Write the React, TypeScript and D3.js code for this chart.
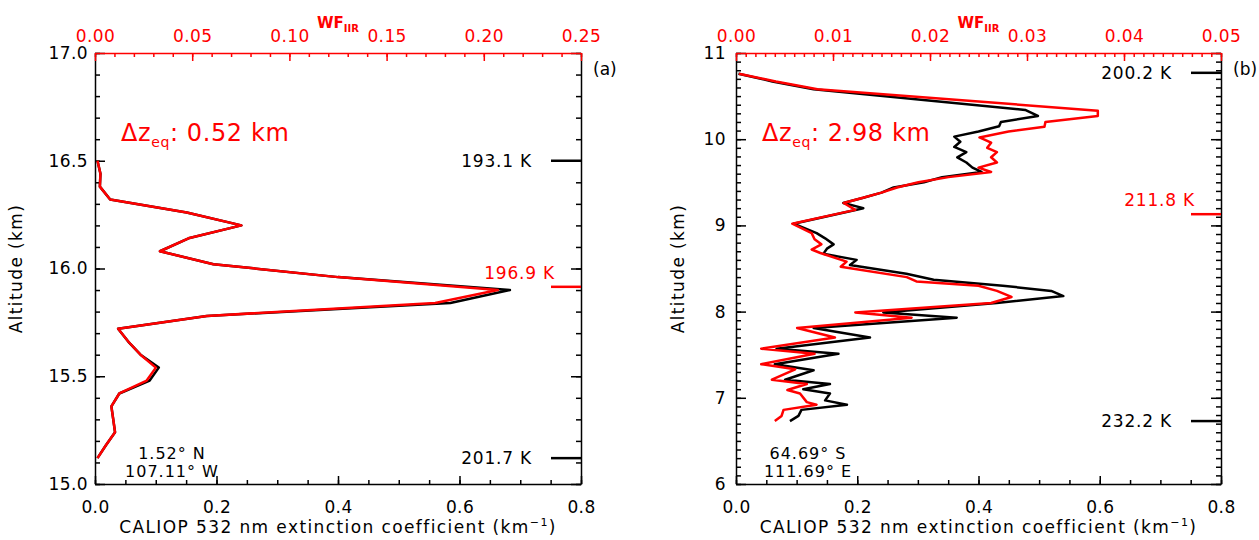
import * as d3 from "d3";
import React, { useRef, useEffect } from "react";

const W = 1259;
const H = 540;
const FONT = "DejaVu Sans, Verdana, sans-serif";
const RED = "#ff0000";

// panel (a): CALIOP extinction (black) and IIR weighting function (red)
const altA = [16.5, 16.44, 16.38, 16.32, 16.26, 16.2, 16.14, 16.08, 16.02, 15.96, 15.9, 15.84, 15.78, 15.72, 15.66, 15.6, 15.54, 15.48, 15.42, 15.36, 15.3, 15.24, 15.18, 15.12];
const extA = [0.004, 0.009, 0.008, 0.025, 0.151, 0.241, 0.154, 0.107, 0.195, 0.4, 0.683, 0.585, 0.184, 0.038, 0.055, 0.075, 0.105, 0.09, 0.04, 0.027, 0.03, 0.033, 0.018, 0.004];
const wfA = [0.0013, 0.0028, 0.0025, 0.0078, 0.0472, 0.0753, 0.0481, 0.0334, 0.0609, 0.125, 0.2072, 0.175, 0.0575, 0.0119, 0.0172, 0.0234, 0.0313, 0.0266, 0.0125, 0.0084, 0.0094, 0.0103, 0.0056, 0.0013];
const tempLabelsA = ["193.1 K", "196.9 K", "201.7 K"];
const tempAltsA = [16.5, 15.915, 15.12];

// panel (b)
const altBk = [10.76, 10.67, 10.58, 10.34, 10.27, 10.2, 10.15, 10.09, 10.03, 9.97, 9.91, 9.85, 9.79, 9.73, 9.67, 9.62, 9.56, 9.5, 9.44, 9.38, 9.32, 9.26, 9.2, 9.02, 8.91, 8.85, 8.78, 8.73, 8.67, 8.6, 8.54, 8.44, 8.37, 8.3, 8.24, 8.18, 8.1, 7.99, 7.93, 7.81, 7.7, 7.57, 7.51, 7.39, 7.32, 7.21, 7.16, 7.1, 7.05, 6.97, 6.92, 6.86, 6.79, 6.73];
const extB = [0.004, 0.06, 0.128, 0.477, 0.498, 0.437, 0.434, 0.4, 0.36, 0.37, 0.36, 0.38, 0.365, 0.38, 0.39, 0.405, 0.34, 0.31, 0.26, 0.24, 0.21, 0.177, 0.21, 0.095, 0.133, 0.147, 0.161, 0.15, 0.144, 0.199, 0.188, 0.281, 0.326, 0.44, 0.52, 0.54, 0.43, 0.243, 0.364, 0.128, 0.221, 0.067, 0.169, 0.064, 0.128, 0.081, 0.155, 0.111, 0.155, 0.147, 0.183, 0.108, 0.103, 0.089];
const altBr = [10.76, 10.67, 10.58, 10.33, 10.27, 10.2, 10.145, 10.09, 10.02, 9.96, 9.9, 9.85, 9.79, 9.73, 9.67, 9.62, 9.56, 9.5, 9.44, 9.38, 9.32, 9.26, 9.18, 9.02, 8.91, 8.84, 8.78, 8.72, 8.68, 8.58, 8.52, 8.4, 8.35, 8.3, 8.24, 8.17, 8.1, 7.99, 7.93, 7.81, 7.7, 7.57, 7.51, 7.39, 7.33, 7.21, 7.16, 7.09, 7.05, 6.95, 6.92, 6.86, 6.79, 6.73];
const wfB = [0.0003, 0.0041, 0.0084, 0.0373, 0.0373, 0.0319, 0.0318, 0.0281, 0.0251, 0.0263, 0.0259, 0.0269, 0.0263, 0.0269, 0.025, 0.0263, 0.0219, 0.0188, 0.0166, 0.015, 0.0131, 0.0111, 0.0123, 0.0058, 0.0078, 0.0081, 0.0088, 0.0078, 0.0087, 0.0114, 0.0108, 0.0176, 0.0186, 0.025, 0.0269, 0.0284, 0.0263, 0.0123, 0.0181, 0.0063, 0.0102, 0.0026, 0.0081, 0.0026, 0.0061, 0.0037, 0.0073, 0.0053, 0.0066, 0.0073, 0.0083, 0.0049, 0.0047, 0.004];
const tempLabelsB = ["200.2 K", "211.8 K", "232.2 K"];
const tempAltsB = [10.77, 9.13, 6.73];

const top = 53;
const bottom = 484;

function Panel(props) {
  const {
    left, right, yDomain, yMajor, yMinor, yFmt, yPad, wfMax, wfMajor, wfMinor,
    bAlt, bExt, rAlt, rWf, tLabels, tAlts, eqIndex, dz, lat, lon, tag, latX, titleX,
  } = props;
  const axRef = useRef(null);

  const x = d3.scaleLinear().domain([0, 0.8]).range([left, right]);
  const xw = d3.scaleLinear().domain([0, wfMax]).range([left, right]);
  const y = d3.scaleLinear().domain(yDomain).range([bottom, top]);

  const style = (sel, color, withText) => {
    sel.attr("font-family", FONT).attr("font-size", 17);
    sel.selectAll("line").attr("stroke", color).attr("stroke-width", 1.5);
    sel.select(".domain").attr("stroke", color).attr("stroke-width", 1.5);
    if (withText) sel.selectAll("text").attr("fill", color).attr("letter-spacing", 0.4);
  };

  useEffect(() => {
    const g = d3.select(axRef.current);
    g.selectAll("*").remove();

    // minor ticks first
    const minor = (axis, tr, color) => {
      const m = g.append("g").attr("transform", tr).call(axis.tickFormat(() => "").tickSizeOuter(0));
      m.select(".domain").remove();
      m.selectAll("line").attr("stroke", color).attr("stroke-width", 1.5);
    };
    minor(d3.axisLeft(y).tickValues(yMinor).tickSizeInner(-5), `translate(${left},0)`, "#000");
    minor(d3.axisRight(y).tickValues(yMinor).tickSizeInner(-5), `translate(${right},0)`, "#000");
    minor(d3.axisBottom(x).tickValues(d3.range(0, 0.8001, 0.05)).tickSizeInner(-4), `translate(0,${bottom})`, "#000");
    minor(d3.axisTop(xw).tickValues(wfMinor).tickSizeInner(-4), `translate(0,${top})`, RED);

    const la = g.append("g").attr("transform", `translate(${left},0)`)
      .call(d3.axisLeft(y).tickValues(yMajor).tickSizeInner(-10).tickSizeOuter(0).tickPadding(yPad).tickFormat(d3.format(yFmt)));
    style(la, "#000", true);
    const ra = g.append("g").attr("transform", `translate(${right},0)`)
      .call(d3.axisRight(y).tickValues(yMajor).tickSizeInner(-10).tickSizeOuter(0).tickFormat(() => ""));
    style(ra, "#000", false);
    const ba = g.append("g").attr("transform", `translate(0,${bottom})`)
      .call(d3.axisBottom(x).tickValues([0, 0.2, 0.4, 0.6, 0.8]).tickSizeInner(-8).tickSizeOuter(0).tickPadding(17).tickFormat(d3.format(".1f")));
    style(ba, "#000", true);
    const ta = g.append("g").attr("transform", `translate(0,${top})`)
      .call(d3.axisTop(xw).tickValues(wfMajor).tickSizeInner(-8).tickSizeOuter(0).tickPadding(11).tickFormat(d3.format(".2f")));
    style(ta, RED, true);
  }, []);

  const blackLine = d3.line<number>().x((d) => x(d)).y((_, i) => y(bAlt[i]));
  const redLine = d3.line<number>().x((d) => xw(d)).y((_, i) => y(rAlt[i]));
  const cx = (left + right) / 2;

  return (
    <g>
      <g ref={axRef} />
      <path d={blackLine(bExt)} fill="none" stroke="#000" strokeWidth={2.5} strokeLinejoin="round" />
      <path d={redLine(rWf)} fill="none" stroke={RED} strokeWidth={2.5} strokeLinejoin="round" />

      {tAlts.map((a, i) => {
        const eq = i === eqIndex;
        const color = eq ? RED : "#000";
        return (
          <g key={i}>
            <line x1={right - 30} x2={right} y1={y(a)} y2={y(a)} stroke={color} strokeWidth={2.5} />
            <text
              x={eq ? right - 26 : right - 49}
              y={eq ? y(a) - 8 : y(a) + 6}
              textAnchor="end" fontSize={17} fontFamily={FONT} fill={color} letterSpacing={0.8}
            >{tLabels[i]}</text>
          </g>
        );
      })}

      <text x={left + 26} y={141} fontSize={24} fontFamily={FONT} fill={RED} letterSpacing={0.6}>
        Δz<tspan dy={6} fontSize={14}>eq</tspan><tspan dy={-6}>: {dz} km</tspan>
      </text>

      <text textAnchor="middle" fontSize={16} fontFamily={FONT} letterSpacing={1}>
        <tspan x={latX} y={459}>{lat}</tspan>
        <tspan x={latX} y={477}>{lon}</tspan>
      </text>

      <text x={right + 12} y={75} fontSize={17} fontFamily={FONT}>{tag}</text>

      <text x={cx} y={28} textAnchor="middle" fontSize={15} fontWeight="bold" fontFamily={FONT} fill={RED}>
        WF<tspan dy={4} fontSize={10}>IIR</tspan>
      </text>

      <text x={cx} y={533} textAnchor="middle" fontSize={17} fontFamily={FONT} letterSpacing={1.4}>
        CALIOP 532 nm extinction coefficient (km<tspan dy={-7} fontSize={11}>−1</tspan><tspan dy={7}>)</tspan>
      </text>

      <text
        transform={`translate(${titleX},${(top + bottom) / 2}) rotate(-90)`}
        textAnchor="middle" fontSize={17} fontFamily={FONT} letterSpacing={1.4}
      >Altitude (km)</text>
    </g>
  );
}

export default function App() {
  return (
    <svg width={W} height={H} style={{ display: "block", position: "absolute", left: 0, top: 0, background: "#fff" }}>
      <Panel
        left={95} right={581}
        yDomain={[15, 17]} yMajor={d3.range(15, 17.001, 0.5)} yMinor={d3.range(15, 17.001, 0.1)} yFmt=".1f" yPad={7}
        wfMax={0.25} wfMajor={d3.range(0, 0.2501, 0.05)} wfMinor={d3.range(0, 0.2501, 0.01)}
        bAlt={altA} bExt={extA} rAlt={altA} rWf={wfA}
        tLabels={tempLabelsA} tAlts={tempAltsA} eqIndex={1}
        dz="0.52" lat="1.52° N" lon="107.11° W" latX={172} titleX={22} tag="(a)"
      />
      <Panel
        left={736} right={1221}
        yDomain={[6, 11]} yMajor={d3.range(6, 11.001, 1)} yMinor={d3.range(6, 11.001, 0.1)} yFmt="d" yPad={10}
        wfMax={0.05} wfMajor={d3.range(0, 0.05001, 0.01)} wfMinor={d3.range(0, 0.05001, 0.001)}
        bAlt={altBk} bExt={extB} rAlt={altBr} rWf={wfB}
        tLabels={tempLabelsB} tAlts={tempAltsB} eqIndex={1}
        dz="2.98" lat="64.69° S" lon="111.69° E" latX={808} titleX={684} tag="(b)"
      />
    </svg>
  );
}
